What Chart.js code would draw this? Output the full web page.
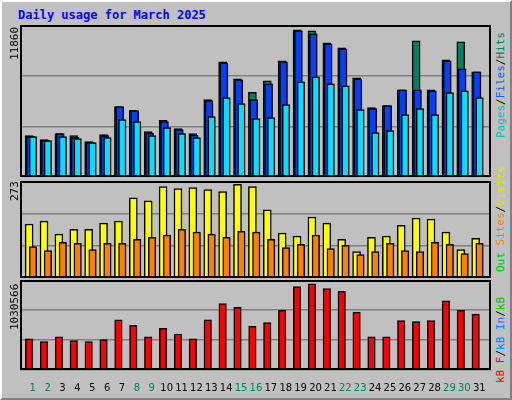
<!DOCTYPE html>
<html>
<head>
<meta charset="utf-8">
<script src="https://cdn.jsdelivr.net/npm/chart.js@4"></script>
<style>
  body { margin: 0; background: #fff; }
  #frame { position: absolute; left: 0; top: 0; width: 508px; height: 396px; background: #c0c0c0;
           border-top: 2px solid #fff; border-left: 2px solid #fff; border-right: 2px solid #808080; border-bottom: 2px solid #808080; }
  canvas { position: absolute; }
  .lbl { position: absolute; font: 11px "DejaVu Sans Mono", monospace; line-height: 12px; white-space: nowrap;
         transform: rotate(-90deg); transform-origin: left bottom; }
  #title { position: absolute; left: 18px; top: 8px; font: bold 12px "DejaVu Sans Mono", monospace; color: #0000ff; }
</style>
</head>
<body>
<div id="frame"></div>
<div id="title">Daily usage for March 2025</div>
<canvas id="top" style="left:20px;top:25px" width="471" height="152"></canvas>
<canvas id="mid" style="left:20px;top:181px" width="471" height="97"></canvas>
<canvas id="bot" style="left:20px;top:280px" width="471" height="118"></canvas>

<div class="lbl" style="left:21px;top:48px;color:#000">11860</div>
<div class="lbl" style="left:21px;top:189px;color:#000">273</div>
<div class="lbl" style="left:21px;top:318px;color:#000">1030566</div>

<div class="lbl" style="left:507px;top:126px"><span style="color:#00c0c0">Pages</span>/<span style="color:#0060ff">Files</span>/<span style="color:#00805c">Hits</span></div>
<div class="lbl" style="left:507px;top:260px"><span style="color:#00c000">Out</span> <span style="color:#ff8000">Sites</span>/<span style="color:#e0e000">Visits</span></div>
<div class="lbl" style="left:507px;top:371px"><span style="color:#ff0000">kB F</span>/<span style="color:#0080ff">kB In</span>/<span style="color:#00c000">kB</span></div>

<script>
const days = Array.from({length: 31}, (_, i) => i + 1);
const weekendDays = [1, 2, 8, 9, 15, 16, 22, 23, 29, 30];

const hits  = [3327, 3005, 3488, 3327, 2844, 3407, 5661, 5366, 3649, 4561, 3890, 3488, 6225, 9283, 7915, 6815,
               7754, 9364, 11860, 11779, 10812, 10410, 7995, 5581, 5742, 7029, 10974, 7029, 9444, 10893, 8478];
const files = [3273, 2951, 3488, 3193, 2790, 3327, 5661, 5339, 3542, 4454, 3810, 3381, 6144, 9203, 7834, 6225,
               7512, 9283, 11800, 11537, 10732, 10330, 7915, 5500, 5742, 7029, 7029, 6949, 9364, 8720, 8478];
const pages = [3247, 2925, 3247, 3086, 2764, 3166, 4615, 4454, 3327, 3971, 3488, 3166, 4856, 6386, 5903, 4695,
               4776, 5822, 7673, 8076, 7512, 7351, 5420, 3568, 3729, 5017, 5500, 5017, 6788, 6949, 6386];
const visits = [157, 166, 128, 142, 142, 160, 166, 234, 225, 267, 261, 264, 258, 252, 273, 267,
                199, 131, 122, 178, 160, 113, 77, 119, 122, 154, 175, 172, 134, 83, 116];
const sites  = [92, 80, 104, 101, 83, 101, 101, 113, 119, 125, 142, 134, 128, 119, 136, 134,
                113, 89, 98, 125, 86, 95, 68, 77, 101, 80, 77, 104, 98, 71, 101];
const kbytes = [373700, 339800, 396400, 351100, 339800, 362400, 600200, 532300, 396400, 498300, 430400, 373700,
                600200, 792800, 747400, 521000, 566300, 713500, 996600, 1030566, 974000, 940000, 690800, 396400,
                396400, 588900, 577600, 588900, 826700, 713500, 668200];

const xMin = 0.147, xMax = 31.79;

const panelBox = {
    id: 'panelBox',
    beforeDraw(chart) {
        const a = chart.chartArea, ctx = chart.ctx;
        ctx.save();
        ctx.fillStyle = '#c0c0c0';
        ctx.fillRect(a.left, a.top, a.width, a.height);
        ctx.restore();
    },
    afterDraw(chart) {
        const a = chart.chartArea, ctx = chart.ctx;
        ctx.save();
        ctx.strokeStyle = '#000';
        ctx.lineWidth = 2;
        ctx.strokeRect(a.left + 1, a.top + 1, a.width - 2, a.height - 2);
        ctx.restore();
    }
};

// order: higher number is drawn first (behind)
function barSet(values, color, offset, width, order) {
    return {
        data: values.map((v, i) => ({x: days[i] + offset, y: v})),
        backgroundColor: color,
        borderColor: '#000',
        borderWidth: 1.5,
        borderSkipped: 'bottom',
        barThickness: width,
        grouped: false,
        order: order
    };
}

function makeChart(id, datasets, yMax, showX) {
    return new Chart(document.getElementById(id), {
        type: 'bar',
        data: {datasets: datasets},
        options: {
            responsive: false,
            animation: false,
            layout: {padding: 0},
            plugins: {legend: {display: false}, tooltip: {enabled: false}},
            scales: {
                x: {
                    type: 'linear',
                    min: xMin,
                    max: xMax,
                    offset: false,
                    display: showX,
                    grid: {display: false},
                    border: {display: false},
                    afterBuildTicks: axis => { axis.ticks = days.map(d => ({value: d})); },
                    ticks: {
                        autoSkip: false,
                        maxRotation: 0,
                        padding: 4,
                        font: {family: 'DejaVu Sans', size: 10},
                        color: ctx => weekendDays.includes(ctx.tick.value) ? '#00805c' : '#000',
                        callback: v => v
                    }
                },
                y: {
                    min: 0,
                    max: yMax,
                    display: true,
                    ticks: {display: false, stepSize: yMax / 3},
                    grid: {color: '#808080', lineWidth: 1.5, drawTicks: false},
                    border: {display: false}
                }
            }
        },
        plugins: [panelBox]
    });
}

makeChart('top', [
    barSet(hits, '#00805c', -0.24, 8, 3),
    barSet(files, '#0040ff', -0.15, 8, 2),
    barSet(pages, '#00e0ff', 0.02, 7.5, 1)
], 12240, false);

makeChart('mid', [
    barSet(visits, '#ffff00', -0.24, 8, 2),
    barSet(sites, '#ff8000', 0.02, 7.5, 1)
], 283, false);

makeChart('bot', [
    barSet(kbytes, '#ff0000', -0.24, 7.5, 1)
], 1075000, true);
</script>
</body>
</html>
